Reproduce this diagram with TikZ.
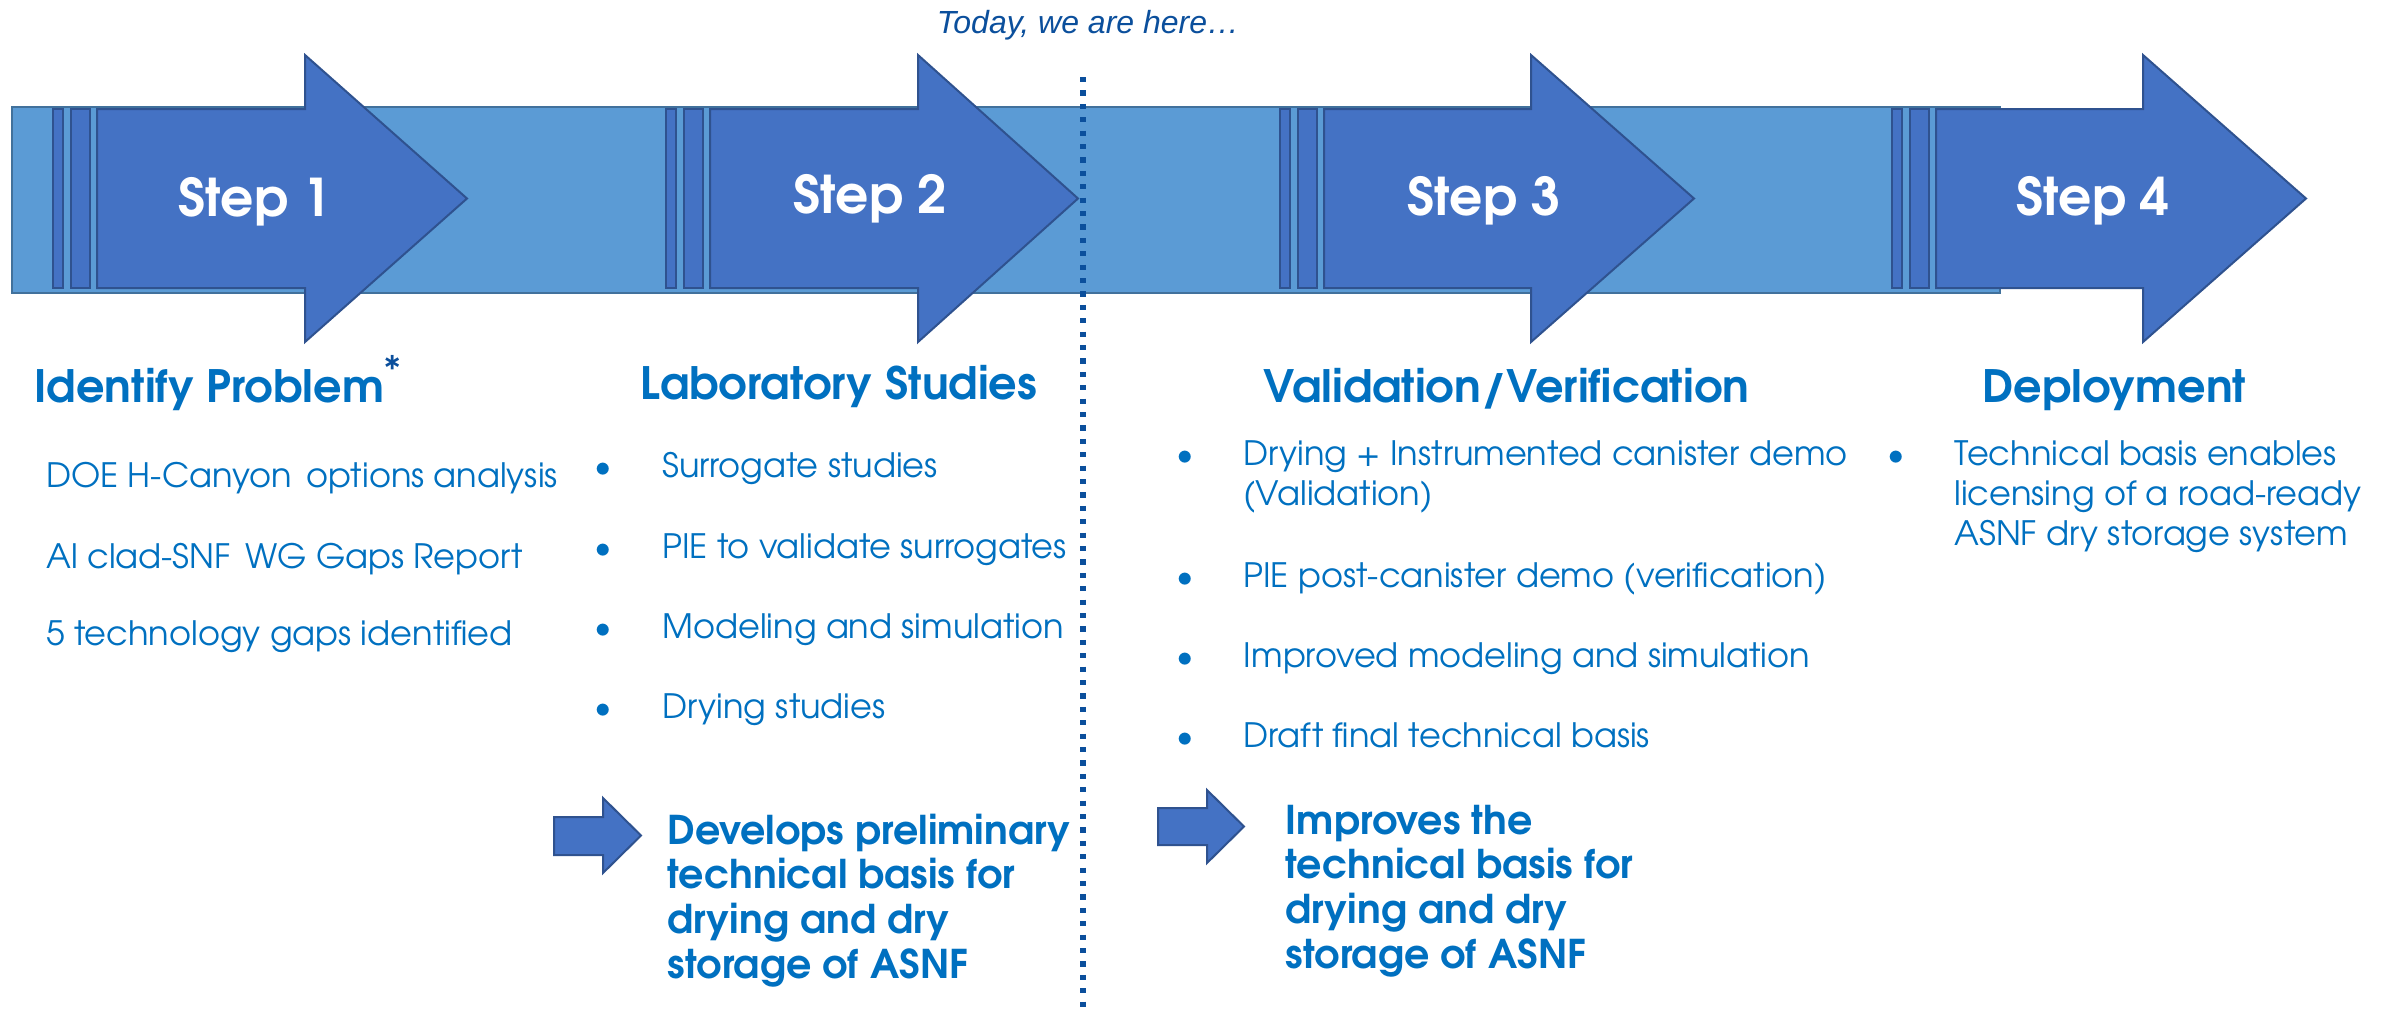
\documentclass[tikz,border=0pt]{standalone}
\usepackage{fontspec}
\setmainfont{TeX Gyre Adventor}
\newfontfamily\arialfont{Liberation Sans}
\definecolor{barblue}{HTML}{5B9BD5}
\definecolor{barline}{HTML}{41719C}
\definecolor{arrowblue}{HTML}{4472C4}
\definecolor{arrowline}{HTML}{2F528F}
\definecolor{textblue}{HTML}{0070C0}
\definecolor{markblue}{HTML}{0B4F9C}

\tikzset{
  shapeline/.style={draw=arrowline, line width=1pt, fill=arrowblue, line join=miter},
  steplabel/.style={text=white, font=\fontsize{26}{30}\selectfont\bfseries, inner sep=0pt, anchor=base},
  heading/.style={text=textblue, font=\fontsize{22.3}{26}\selectfont\bfseries, inner sep=0pt, anchor=base west},
  itemtext/.style={text=textblue, font=\fontsize{16.8}{20}\selectfont, inner sep=0pt, anchor=base west, align=left},
  dotmark/.style={text=textblue, font=\fontsize{16.8}{20}\selectfont, inner sep=0pt, anchor=base},
  resulttext/.style={text=textblue, font=\fontsize{19.8}{22.3}\selectfont\bfseries, inner sep=0pt, anchor=base west, align=left},
  todayline/.style={draw=markblue, line width=2.6pt, dash pattern=on 2.6pt off 4.1pt},
}

% striped block arrow: #1 stripe start, #2 head start, #3 tip
\newcommand\stripedarrow[3]{%
  \path[shapeline] (#1,109) rectangle ({#1+10},288);
  \path[shapeline] ({#1+18},109) rectangle ({#1+37},288);
  \path[shapeline] ({#1+44},109) -- (#2,109) -- (#2,55) -- (#3,198.5)
        -- (#2,342) -- (#2,288) -- ({#1+44},288) -- cycle;
}
% small block arrow: #1 left, #2 head start, #3 tip, #4 shaft top, #5 shaft bottom, #6 head top, #7 head bottom
\newcommand\smallarrow[7]{%
  \path[shapeline] (#1,#4) -- (#2,#4) -- (#2,#6) -- (#3,{(#6+#7)/2})
        -- (#2,#7) -- (#2,#5) -- (#1,#5) -- cycle;
}

\begin{document}
\begin{tikzpicture}[x=0.5pt, y=-0.5pt]
\useasboundingbox (0,0) rectangle (2384,1014);

% timeline bar
\path[fill=barblue, draw=barline, line width=1pt] (12,107) rectangle (2000,293);

% step arrows
\stripedarrow{53}{305}{467}
\stripedarrow{666}{918}{1078}
\stripedarrow{1280}{1531}{1694}
\stripedarrow{1892}{2143}{2306}

\node[steplabel] (step1) at (255,216) {Step 1};
\node[steplabel] (step2) at (870,213) {Step 2};
\node[steplabel] (step3) at (1484,215) {Step 3};
\node[steplabel] (step4) at (2093,215) {Step 4};

% "today" marker
\coordinate (todaytop) at (1083,77);
\coordinate (todaybottom) at (1083,1014);
\draw[todayline] (todaytop) -- (todaybottom);
\node[text=markblue, font=\arialfont\itshape\fontsize{16}{19}\selectfont, inner sep=0pt, anchor=base]
  (today) at (1088,33) {Today, we are here…};

% step 1
\node[heading] (h1) at (34,402) {Identify Problem\raisebox{0.42em}{\textcolor{markblue}{\fontsize{19}{19}\selectfont\mdseries *}}};
\node[itemtext] (p1a) at (46,487) {DOE H-Canyon\, options analysis};
\node[itemtext] (p1b) at (46,568) {Al clad-SNF\, WG Gaps Report};
\node[itemtext] (p1c) at (46,645) {5 technology gaps identified};

% step 2
\node[heading] (h2) at (640,399) {Laboratory Studies};
\foreach \yy/\txt [count=\i] in {477/Surrogate studies, 558/PIE to validate surrogates,
    638/Modeling and simulation, 718/Drying studies}{
  \node[dotmark] (b2\i) at (603,\yy) {\textbullet};
  \node[itemtext] (p2\i) at (662,\yy) {\txt};
}

% step 3
\node[heading] (h3) at (1263,402) {Validation/Verification};
\node[dotmark] (b31) at (1185,465) {\textbullet};
\node[itemtext] (p31) at (1243,505) {Drying + Instrumented canister demo\\(Validation)};
\node[dotmark] (b32) at (1185,587) {\textbullet};
\node[itemtext] (p32) at (1243,587) {PIE post-canister demo (verification)};
\node[dotmark] (b33) at (1185,667) {\textbullet};
\node[itemtext] (p33) at (1243,667) {Improved modeling and simulation};
\node[dotmark] (b34) at (1185,747) {\textbullet};
\node[itemtext] (p34) at (1243,747) {Draft final technical basis};

% step 4
\node[heading] (h4) at (1982,402) {Deployment};
\node[dotmark] (b41) at (1896,465) {\textbullet};
\node[itemtext] (p41) at (1954,545) {Technical basis enables\\licensing of a road-ready\\ASNF dry storage system};

% outcomes
\smallarrow{554}{603}{641}{817}{855}{798}{873}
\node[resulttext] (r2) at (667,978) {Develops preliminary\\technical basis for\\drying and dry\\storage of ASNF};
\smallarrow{1158}{1207}{1244}{808}{845}{790}{863}
\node[resulttext] (r3) at (1285,968) {Improves the\\technical basis for\\drying and dry\\storage of ASNF};
\end{tikzpicture}
\end{document}
